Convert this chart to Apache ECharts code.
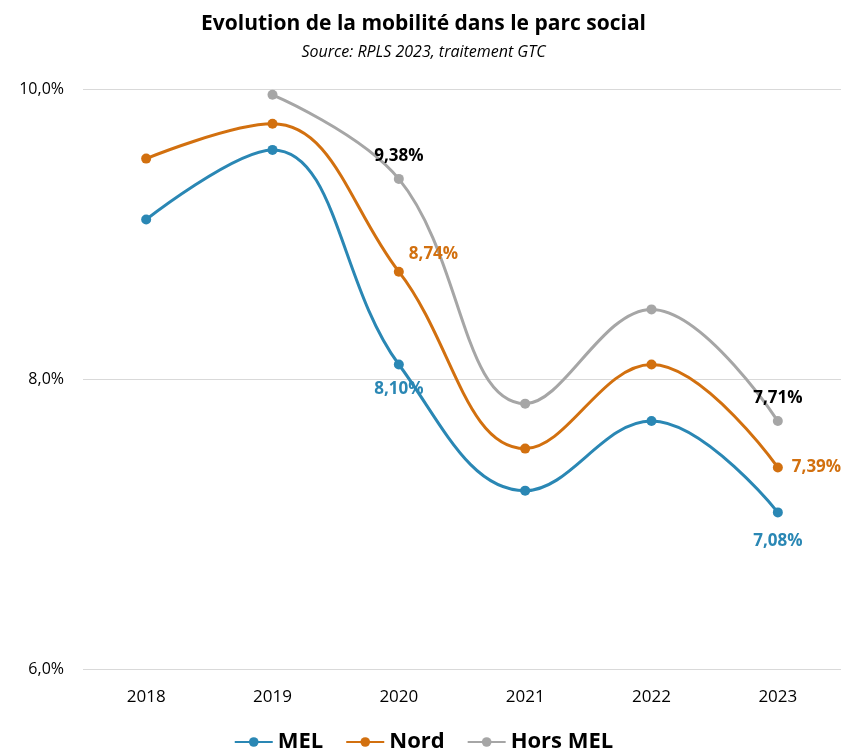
<!DOCTYPE html>
<html>
<head>
<meta charset="utf-8">
<script src="https://cdn.jsdelivr.net/npm/echarts@6/dist/echarts.min.js"></script>
<style>
  html, body { margin: 0; padding: 0; background: #fff; }
  #chart { width: 847px; height: 755px; }
</style>
</head>
<body>
<div id="chart"></div>
<script>
// Taux de mobilité annuel dans le parc social (%)
const years = ['2018', '2019', '2020', '2021', '2022', '2023'];
const mel = [9.10, 9.58, 8.10, 7.23, 7.71, 7.08];
const nord = [9.52, 9.76, 8.74, 7.52, 8.10, 7.39];
const horsMel = [null, 9.96, 9.38, 7.83, 8.48, 7.71];
const yTicks = [6, 8, 10];

const FONT = '"Liberation Sans Narrow", "Open Sans", sans-serif';
const fmt = v => v.toFixed(2).replace('.', ',') + '%';

// Étiquettes de valeur affichées pour 2020 et 2023 seulement
function withLabels(values, color, placements) {
  return values.map((v, i) => {
    const p = placements[i];
    if (!p || v == null) return v;
    return {
      value: v,
      label: {
        show: true,
        position: p.position,
        offset: p.offset || [0, 0],
        formatter: () => fmt(v),
        color: color,
        fontFamily: FONT,
        fontWeight: 'bold',
        fontSize: 17
      }
    };
  });
}

const blue = '#2a87b4';
const orange = '#d2700f';
const grey = '#a6a6a6';

function lineSeries(name, values, color) {
  return {
    name: name,
    type: 'line',
    data: values,
    smooth: 0.4,
    connectNulls: false,
    symbol: 'circle',
    symbolSize: 10,
    lineStyle: { width: 3, color: color },
    itemStyle: { color: color },
    z: 2
  };
}

const option = {
  animation: false,
  backgroundColor: '#ffffff',
  title: {
    text: 'Evolution de la mobilité dans le parc social',
    subtext: 'Source: RPLS 2023, traitement GTC',
    left: 'center',
    top: 9,
    itemGap: 9,
    textStyle: { fontFamily: FONT, fontWeight: 'bold', fontSize: 21, color: '#000' },
    subtextStyle: { fontFamily: FONT, fontStyle: 'italic', fontSize: 16, color: '#000' }
  },
  legend: {
    bottom: -3,
    left: 'center',
    itemWidth: 38,
    itemHeight: 12,
    itemGap: 22,
    textStyle: { fontFamily: FONT, fontWeight: 'bold', fontSize: 22, color: '#000' },
    data: ['MEL', 'Nord', 'Hors MEL']
  },
  grid: { left: 83, right: 6, top: 89, bottom: 86, containLabel: false },
  xAxis: {
    type: 'category',
    data: years,
    boundaryGap: true,
    axisLine: { show: false },
    axisTick: { show: false },
    axisLabel: { fontFamily: FONT, fontSize: 17, color: '#000', margin: 20 }
  },
  yAxis: {
    type: 'value',
    min: yTicks[0],
    max: yTicks[yTicks.length - 1],
    interval: 2,
    axisLine: { show: false },
    axisTick: { show: false },
    splitLine: { lineStyle: { color: '#d9d9d9', width: 1 } },
    axisLabel: {
      fontFamily: FONT, fontSize: 16, color: '#000', margin: 19,
      formatter: v => v.toFixed(1).replace('.', ',') + '%'
    }
  },
  series: [
    lineSeries('MEL', withLabels(mel, blue, {
      2: { position: 'bottom', offset: [0, 6] },
      5: { position: 'bottom', offset: [0, 10] }
    }), blue),
    lineSeries('Nord', withLabels(nord, orange, {
      2: { position: 'right', offset: [0, -18] },
      5: { position: 'right', offset: [4, 0] }
    }), orange),
    lineSeries('Hors MEL', withLabels(horsMel, '#000', {
      2: { position: 'top', offset: [0, -4] },
      5: { position: 'top', offset: [0, -4] }
    }), grey)
  ]
};

const chart = echarts.init(document.getElementById('chart'), null, { renderer: 'canvas' });
chart.setOption(option);
</script>
</body>
</html>
